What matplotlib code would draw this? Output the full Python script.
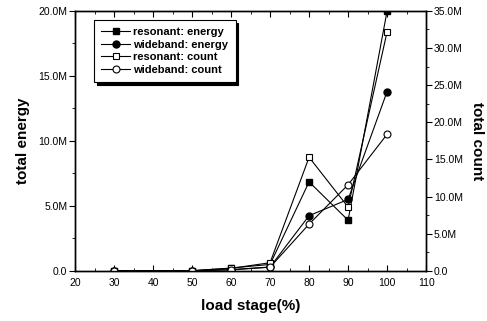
import matplotlib
matplotlib.use("Agg")
import matplotlib.pyplot as plt
from matplotlib.ticker import FuncFormatter, MultipleLocator

plt.rcParams['font.family'] = ['Liberation Sans', 'DejaVu Sans']

# load stage (%) and values in millions
stage = [30, 50, 60, 70, 80, 90, 100]
res_energy = [0.02, 0.02, 0.22, 0.5, 6.85, 3.9, 20.0]
wide_energy = [0.01, 0.01, 0.1, 0.3, 4.25, 5.5, 13.8]
res_count = [0.03, 0.03, 0.35, 1.1, 15.3, 8.6, 32.2]
wide_count = [0.02, 0.02, 0.15, 0.5, 6.3, 11.6, 18.4]


def fmt_m(v, pos):
    if abs(v) < 1e-9:
        return "0.0"
    return f"{v:.1f}M"


fig = plt.figure(figsize=(4.87, 3.21), dpi=100)
ax1 = fig.add_axes([0.154, 0.156, 0.721, 0.81])
ax2 = ax1.twinx()

lw = 0.8
ms = 5
l1, = ax1.plot(stage, res_energy, color="black", lw=lw, marker="s", ms=ms,
               mfc="black", mec="black", label="resonant: energy")
l2, = ax1.plot(stage, wide_energy, color="black", lw=lw, marker="o", ms=ms,
               mfc="black", mec="black", label="wideband: energy")
l3, = ax2.plot(stage, res_count, color="black", lw=lw, marker="s", ms=ms,
               mfc="white", mec="black", mew=0.8, label="resonant: count")
l4, = ax2.plot(stage, wide_count, color="black", lw=lw, marker="o", ms=ms,
               mfc="white", mec="black", mew=0.8, label="wideband: count")

ax1.set_xlim(20, 110)
ax1.set_ylim(0, 20)
ax2.set_ylim(0, 35)

ax1.xaxis.set_major_locator(MultipleLocator(10))
ax1.xaxis.set_minor_locator(MultipleLocator(5))
ax1.yaxis.set_major_locator(MultipleLocator(5))
ax1.yaxis.set_minor_locator(MultipleLocator(2.5))
ax2.yaxis.set_major_locator(MultipleLocator(5))
ax2.yaxis.set_minor_locator(MultipleLocator(2.5))
ax1.yaxis.set_major_formatter(FuncFormatter(fmt_m))
ax2.yaxis.set_major_formatter(FuncFormatter(fmt_m))

ax1.tick_params(axis="x", which="both", direction="in", top=True, labelsize=7.5, pad=5)
ax1.tick_params(axis="x", which="major", length=4)
ax1.tick_params(axis="x", which="minor", length=2.5)
ax1.tick_params(axis="y", which="both", direction="out", labelsize=7.5, pad=1.5)
ax1.tick_params(axis="y", which="major", length=4)
ax1.tick_params(axis="y", which="minor", length=2.5)
ax2.tick_params(axis="y", which="both", direction="out", labelsize=7.5, pad=1.5)
ax2.tick_params(axis="y", which="major", length=4)
ax2.tick_params(axis="y", which="minor", length=2.5)

for ax in (ax1, ax2):
    for sp in ax.spines.values():
        sp.set_linewidth(1.0)

ax1.set_xlabel("load stage(%)", fontsize=11, fontweight="bold", labelpad=8)
ax1.set_ylabel("total energy", fontsize=11, fontweight="bold", labelpad=6)
ax2.set_ylabel("total count", fontsize=11, fontweight="bold", rotation=270, labelpad=15)

leg = ax2.legend(handles=[l1, l2, l3, l4], loc="upper left",
                 bbox_to_anchor=(0.054, 0.965), prop={"size": 8, "weight": "bold"},
                 frameon=True, fancybox=False, edgecolor="black",
                 shadow={"color": "black", "alpha": 1},
                 handlelength=2.6, handletextpad=0.3, labelspacing=0.22,
                 borderpad=0.65, borderaxespad=0)
leg.get_frame().set_linewidth(0.8)

fig.savefig("out.png", dpi=100)
